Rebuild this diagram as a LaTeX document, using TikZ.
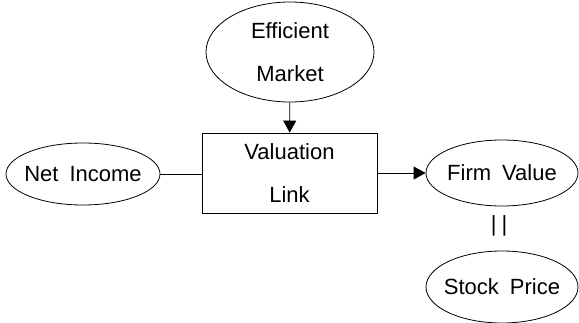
\documentclass[tikz,border=0pt]{standalone}
\usepackage{fontspec}
\setmainfont{Liberation Sans}[WordSpace=1.8]
\usetikzlibrary{shapes.geometric,arrows.meta}
\begin{document}
\begin{tikzpicture}[x=1pt,y=-1pt,
  every node/.style={font=\fontsize{22}{43}\selectfont, align=center, inner sep=0pt},
  oval/.style={draw, ellipse, line width=0.8pt, inner sep=-20pt},
  linkbox/.style={draw, rectangle, line width=0.8pt, minimum width=175pt, minimum height=80pt},
  conn/.style={line width=0.8pt},
  arr/.style={conn, -{Triangle[length=12pt,width=13pt]}}]
\useasboundingbox (0,0) rectangle (579,323);
\node[oval, minimum width=168pt, minimum height=100pt] (em) at (290,52) {Efficient\\Market};
\node[linkbox] (vl) at (289.5,173) {Valuation\\Link};
\node[oval, minimum width=154pt, minimum height=62pt] (ni) at (83,174) {Net Income};
\node[oval, minimum width=152pt, minimum height=66pt] (fv) at (502,173) {Firm Value};
\node[oval, minimum width=152pt, minimum height=72pt] (sp) at (502,287) {Stock Price};
\node (eq) at (499,226) {|\kern5pt|};
\draw[arr] (em) -- (vl);
\draw[conn] (ni.east) -- (ni.east -| vl.west);
\draw[arr] (vl.east |- fv.west) -- (fv.west);
\end{tikzpicture}
\end{document}
